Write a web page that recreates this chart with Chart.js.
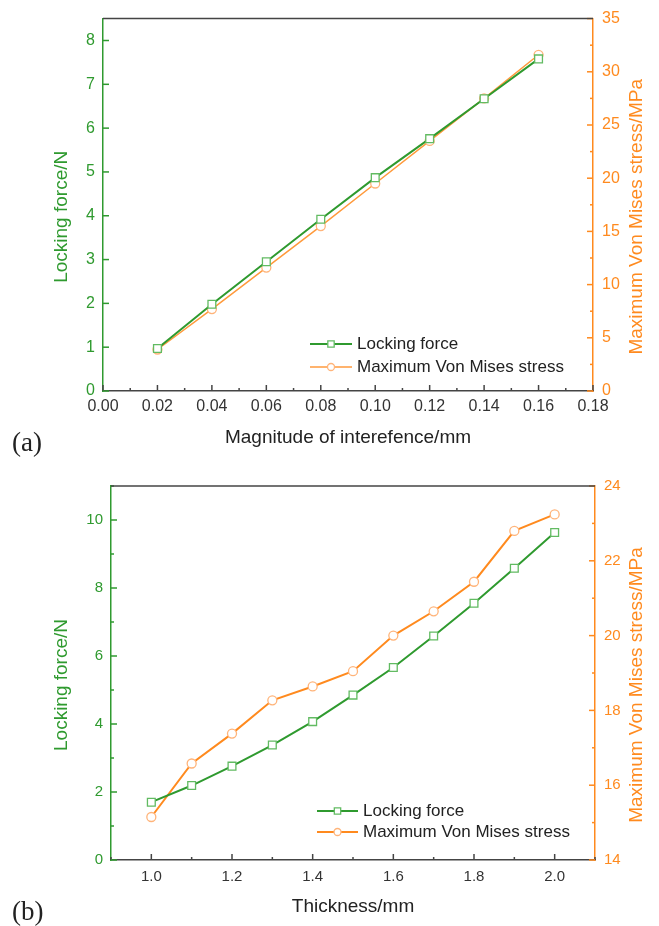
<!DOCTYPE html>
<html>
<head>
<meta charset="utf-8">
<script src="https://cdn.jsdelivr.net/npm/chart.js@4.4.1/dist/chart.umd.min.js"></script>
<style>
  body { margin: 0; background: #fff; }
  .panel { position: absolute; left: 0; }
  .tag { position: absolute; left: 12px; font: 27px "Liberation Serif", "Times New Roman", serif; color: #222; line-height: 1; }
</style>
</head>
<body>
<div class="panel" style="top:0"><canvas id="chartA" width="659" height="450"></canvas></div>
<div class="panel" style="top:450px"><canvas id="chartB" width="659" height="476"></canvas></div>
<div class="tag" style="top:429px">(a)</div>
<div class="tag" style="top:898px">(b)</div>
<script>
// (a) interference sweep
const interference = [0.02, 0.04, 0.06, 0.08, 0.10, 0.12, 0.14, 0.16];
const forceA = [0.97, 1.98, 2.95, 3.92, 4.87, 5.76, 6.67, 7.58];
const stressA = [3.9, 7.7, 11.6, 15.5, 19.5, 23.5, 27.5, 31.6];

// (b) thickness sweep
const thickness = [1.0, 1.1, 1.2, 1.3, 1.4, 1.5, 1.6, 1.7, 1.8, 1.9, 2.0];
const forceB = [1.70, 2.19, 2.76, 3.38, 4.07, 4.85, 5.66, 6.59, 7.55, 8.58, 9.63];
const stressB = [15.15, 16.58, 17.38, 18.27, 18.64, 19.05, 20.0, 20.65, 21.44, 22.8, 23.24];

const seriesNames = ['Locking force', 'Maximum Von Mises stress'];
const forceTitle = 'Locking force/N';
const stressTitle = 'Maximum Von Mises stress/MPa';

const green = '#2f9a2f';
const greenLight = '#62bb62';
const orange = '#ff8a1e';
const orangeLight = '#ffb47a';
const axisGray = '#444';
const fontFamily = '"Liberation Sans", Arial, sans-serif';

Chart.defaults.font.family = fontFamily;
Chart.defaults.animation = false;

const pairs = (xs, ys) => xs.map((x, i) => ({ x: x, y: ys[i] }));

// every other tick gets a label, the rest stay as short minor marks
const everyOther = (step, digits) => (v) =>
  Math.round(v / step) % 2 === 0 ? v.toFixed(digits) : '';

// ticks pointing into the plot, plus the top frame line
const innerTicks = {
  id: 'innerTicks',
  afterDraw(chart) {
    const ctx = chart.ctx;
    const area = chart.chartArea;
    ctx.save();
    Object.values(chart.scales).forEach(scale => {
      ctx.strokeStyle = scale.options.border.color;
      ctx.lineWidth = 1.5;
      scale.ticks.forEach(tick => {
        const len = tick.label ? 6 : 3;
        const p = scale.getPixelForValue(tick.value);
        ctx.beginPath();
        if (scale.axis === 'x') {
          ctx.moveTo(p, area.bottom);
          ctx.lineTo(p, area.bottom - len);
        } else if (scale.position === 'left') {
          ctx.moveTo(area.left, p);
          ctx.lineTo(area.left + len, p);
        } else {
          ctx.moveTo(area.right, p);
          ctx.lineTo(area.right - len, p);
        }
        ctx.stroke();
      });
    });
    ctx.strokeStyle = axisGray;
    ctx.lineWidth = 1.5;
    ctx.beginPath();
    ctx.moveTo(area.left, area.top);
    ctx.lineTo(area.right, area.top);
    ctx.stroke();
    ctx.restore();
  }
};

// both y titles read bottom-to-top, so they are drawn here instead of by the scales
const sideTitles = {
  id: 'sideTitles',
  afterDraw(chart, args, opts) {
    const ctx = chart.ctx;
    const area = chart.chartArea;
    const cy = (area.top + area.bottom) / 2 + opts.shift;
    ctx.save();
    ctx.font = '19px ' + fontFamily;
    ctx.textAlign = 'center';
    ctx.textBaseline = 'middle';
    [[opts.leftX, forceTitle, green], [opts.rightX, stressTitle, orange]].forEach(([x, text, color]) => {
      ctx.save();
      ctx.translate(x, cy);
      ctx.rotate(-Math.PI / 2);
      ctx.fillStyle = color;
      ctx.fillText(text, 0, 0);
      ctx.restore();
    });
    ctx.restore();
  }
};

// legend drawn inside the plot area
const boxLegend = {
  id: 'boxLegend',
  afterDraw(chart, args, opts) {
    const ctx = chart.ctx;
    ctx.save();
    chart.data.datasets.forEach((ds, i) => {
      const y = opts.y + i * opts.gap;
      ctx.strokeStyle = ds.borderColor;
      ctx.lineWidth = ds.borderWidth;
      ctx.beginPath();
      ctx.moveTo(opts.x, y);
      ctx.lineTo(opts.x + opts.len, y);
      ctx.stroke();
      ctx.fillStyle = '#fff';
      ctx.strokeStyle = ds.pointBorderColor;
      ctx.lineWidth = 1.3;
      Chart.helpers.drawPoint(ctx, {
        pointStyle: ds.pointStyle,
        radius: ds.pointStyle === 'rect' ? 4.5 : 3.5,
        rotation: 0,
        borderWidth: 1.3
      }, opts.x + opts.len / 2, y);
      ctx.fillStyle = '#222';
      ctx.font = '17px ' + fontFamily;
      ctx.textAlign = 'left';
      ctx.textBaseline = 'middle';
      ctx.fillText(ds.label, opts.x + opts.len + 5, y);
    });
    ctx.restore();
  }
};

function makeChart(id, cfg) {
  const tickFont = { size: cfg.tickSize };
  return new Chart(document.getElementById(id), {
    type: 'line',
    data: {
      datasets: [{
        label: seriesNames[0],
        data: pairs(cfg.xs, cfg.force),
        yAxisID: 'y',
        borderColor: green,
        borderWidth: 2,
        pointStyle: 'rect',
        pointRadius: 5.5,
        pointBorderWidth: 1.3,
        pointBorderColor: greenLight,
        pointBackgroundColor: '#fff'
      }, {
        label: seriesNames[1],
        data: pairs(cfg.xs, cfg.stress),
        yAxisID: 'y1',
        borderColor: cfg.stressLine,
        borderWidth: cfg.stressWidth,
        pointStyle: 'circle',
        pointRadius: 4.5,
        pointBorderWidth: 1.3,
        pointBorderColor: orangeLight,
        pointBackgroundColor: '#fff'
      }]
    },
    options: {
      responsive: false,
      layout: { padding: { top: cfg.top, left: 0, right: 0, bottom: 0 } },
      plugins: {
        legend: { display: false },
        tooltip: { enabled: false },
        boxLegend: cfg.legend,
        sideTitles: { leftX: 62, rightX: 637, shift: 12 }
      },
      scales: {
        x: {
          type: 'linear',
          min: cfg.xMin, max: cfg.xMax,
          grid: { display: false, drawTicks: false },
          border: { color: axisGray, width: 1.5 },
          ticks: {
            stepSize: cfg.xStep, autoSkip: false, maxRotation: 0,
            padding: cfg.xPad, color: '#333', font: tickFont,
            callback: everyOther(cfg.xStep, cfg.xDigits)
          },
          title: {
            display: true, text: cfg.xTitle, color: '#222', font: { size: 19 },
            padding: { top: 0, bottom: cfg.xTitlePad }
          },
          afterFit: (s) => { s.height = cfg.xHeight; }
        },
        y: {
          position: 'left',
          min: 0, max: cfg.yMax,
          grid: { display: false, drawTicks: false },
          border: { color: green, width: 1.5 },
          ticks: {
            stepSize: cfg.yStep, padding: 8, color: green, font: tickFont,
            callback: everyOther(cfg.yStep, 0)
          },
          afterFit: (s) => { s.width = cfg.left; }
        },
        y1: {
          position: 'right',
          min: cfg.sMin, max: cfg.sMax,
          grid: { display: false, drawTicks: false },
          border: { color: orange, width: 1.5 },
          ticks: {
            stepSize: cfg.sStep, padding: 9, color: orange, font: tickFont,
            callback: (v) => Math.round((v - cfg.sMin) / cfg.sStep) % 2 === 0 ? String(v) : ''
          },
          afterFit: (s) => { s.width = cfg.right; }
        }
      }
    },
    plugins: [innerTicks, sideTitles, boxLegend]
  });
}

makeChart('chartA', {
  xs: interference, force: forceA, stress: stressA,
  stressLine: '#ff9a3c', stressWidth: 1.5,
  top: 16, left: 103, right: 66, xHeight: 59,
  xMin: 0, xMax: 0.18, xStep: 0.01, xDigits: 2, xPad: 6,
  xTitle: 'Magnitude of interefence/mm', xTitlePad: 1,
  yMax: 8.5, yStep: 0.5,
  sMin: 0, sMax: 35, sStep: 2.5,
  tickSize: 16,
  legend: { x: 310, y: 344, gap: 23, len: 42 }
});

makeChart('chartB', {
  xs: thickness, force: forceB, stress: stressB,
  stressLine: orange, stressWidth: 2,
  top: 36, left: 111, right: 64, xHeight: 66,
  xMin: 0.9, xMax: 2.1, xStep: 0.1, xDigits: 1, xPad: 8,
  xTitle: 'Thickness/mm', xTitlePad: 8,
  yMax: 11, yStep: 1,
  sMin: 14, sMax: 24, sStep: 1,
  tickSize: 15,
  legend: { x: 317, y: 361, gap: 21, len: 41 }
});
</script>
</body>
</html>
